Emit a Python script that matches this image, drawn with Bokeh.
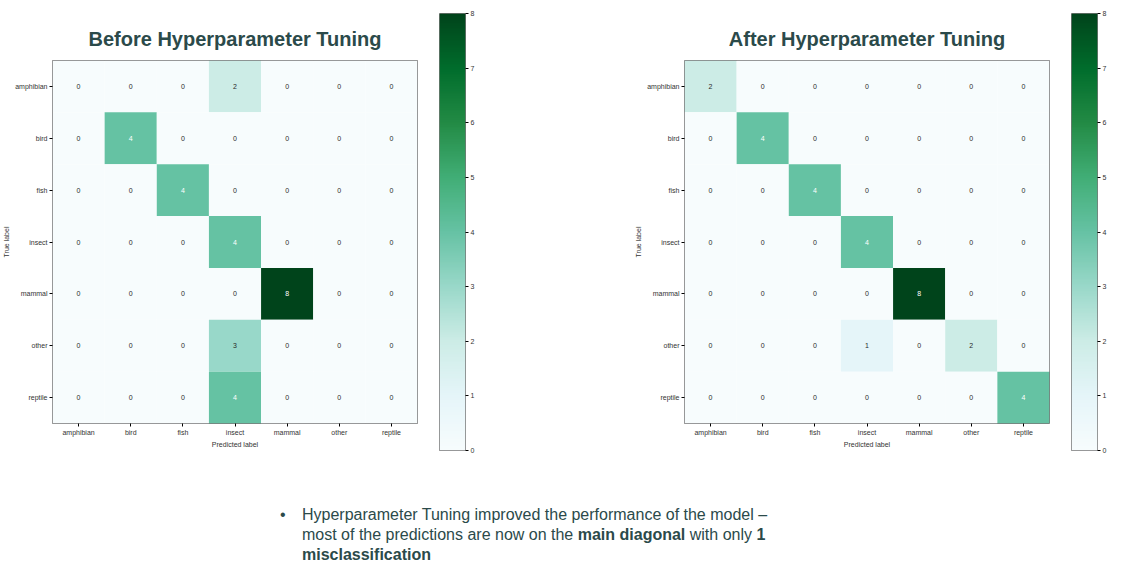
import numpy as np
from bokeh.plotting import figure
from bokeh.models import LinearColorMapper, FactorRange, Div, Spacer, FixedTicker, ColumnDataSource
from bokeh.layouts import row, column
from bokeh.palettes import BuGn9
from bokeh.embed import file_html
from bokeh.resources import INLINE

classes = ["amphibian", "bird", "fish", "insect", "mammal", "other", "reptile"]

# rows = true label, columns = predicted label
before = [
    [0, 0, 0, 2, 0, 0, 0],
    [0, 4, 0, 0, 0, 0, 0],
    [0, 0, 4, 0, 0, 0, 0],
    [0, 0, 0, 4, 0, 0, 0],
    [0, 0, 0, 0, 8, 0, 0],
    [0, 0, 0, 3, 0, 0, 0],
    [0, 0, 0, 4, 0, 0, 0],
]
after = [
    [2, 0, 0, 0, 0, 0, 0],
    [0, 4, 0, 0, 0, 0, 0],
    [0, 0, 4, 0, 0, 0, 0],
    [0, 0, 0, 4, 0, 0, 0],
    [0, 0, 0, 0, 8, 0, 0],
    [0, 0, 0, 1, 0, 2, 0],
    [0, 0, 0, 0, 0, 0, 4],
]
cbar_ticks = [0, 1, 2, 3, 4, 5, 6, 7, 8]

TITLE_COLOR = "#2b4a4a"
FONT = "Liberation Sans"


def smooth_palette(base, n=256):
    rgb = np.array([[int(c[i:i + 2], 16) for i in (1, 3, 5)] for c in base], float)
    pos = np.linspace(0, 1, len(base))
    t = np.linspace(0, 1, n)
    out = np.stack([np.interp(t, pos, rgb[:, k]) for k in range(3)], axis=1)
    return ["#%02x%02x%02x" % tuple(int(round(v)) for v in c) for c in out]


palette = smooth_palette(list(BuGn9[::-1]))
mapper = LinearColorMapper(palette=palette, low=0, high=8)


def matrix_plot(title, mat):
    xs, ys, vals = [], [], []
    for i, t in enumerate(classes):
        for j, p_ in enumerate(classes):
            xs.append(p_)
            ys.append(t)
            vals.append(mat[i][j])
    src = ColumnDataSource(dict(x=xs, y=ys, v=vals, s=[str(v) for v in vals],
                                tc=["white" if v >= 4 else "#2a2a2a" for v in vals]))
    p = figure(x_range=FactorRange(*classes), y_range=FactorRange(*classes[::-1]),
               width=425, height=450, output_backend="svg", toolbar_location=None,
               min_border_left=50, min_border_right=8, min_border_top=60, min_border_bottom=24,
               title=title)
    p.title.text_font = FONT
    p.title.text_font_size = "20px"
    p.title.text_color = TITLE_COLOR
    p.title.align = "center"
    p.title.standoff = 22
    p.rect("x", "y", 1, 1, source=src, fill_color={"field": "v", "transform": mapper},
           line_color=None)
    p.text("x", "y", text="s", source=src, text_color="tc", text_font_size="7px",
           text_align="center", text_baseline="middle")
    p.grid.visible = False
    p.outline_line_color = "#777777"
    p.xaxis.axis_label = "Predicted label"
    p.yaxis.axis_label = "True label"
    for ax in (p.xaxis[0], p.yaxis[0]):
        ax.axis_line_color = None
        ax.major_label_text_font_size = "7px"
        ax.major_label_text_color = "#333333"
        ax.axis_label_text_font_size = "7px"
        ax.axis_label_text_font_style = "normal"
        ax.axis_label_text_color = "#333333"
        ax.major_tick_in = 0
        ax.major_tick_out = 3
        ax.major_label_standoff = 2
        ax.axis_label_standoff = 2
    p.yaxis.major_label_orientation = "horizontal"
    return p


def colorbar_plot():
    p = figure(x_range=(0, 1), y_range=(0, 8), width=52, height=455,
               y_axis_location="right", output_backend="svg", toolbar_location=None,
               min_border_left=14, min_border_top=13, min_border_bottom=5, min_border_right=2)
    grad = np.linspace(0, 8, 256).reshape(256, 1)
    p.image(image=[grad], x=0, y=0, dw=1, dh=8, color_mapper=mapper)
    p.xaxis.visible = False
    p.grid.visible = False
    p.outline_line_color = "#777777"
    ax = p.yaxis[0]
    ax.ticker = FixedTicker(ticks=cbar_ticks)
    ax.axis_line_color = None
    ax.major_label_text_font_size = "7px"
    ax.major_label_text_color = "#333333"
    ax.major_tick_in = 0
    ax.major_tick_out = 3
    ax.minor_tick_out = 0
    ax.major_label_standoff = 2
    return p


left = matrix_plot("Before Hyperparameter Tuning", before)
right = matrix_plot("After Hyperparameter Tuning", after)
top = row(column(left), column(colorbar_plot()), Spacer(width=155, height=10),
          column(right), column(colorbar_plot()))

note = Div(text=(
    "<div style='display:flex;font-family:Liberation Sans,Arial;font-size:16px;"
    "color:%s;line-height:20px;width:510px'>"
    "<span style='width:22px;flex:none'>&bull;</span>"
    "<span>Hyperparameter Tuning improved the performance of the model &ndash; "
    "most of the predictions are now on the <b>main diagonal</b> with only <b>1 "
    "misclassification</b></span></div>" % TITLE_COLOR),
    width=540, height=90, styles={"margin-left": "280px", "margin-top": "50px"})

p = column(top, note)
open("out.html", "w").write(file_html(p, INLINE))
